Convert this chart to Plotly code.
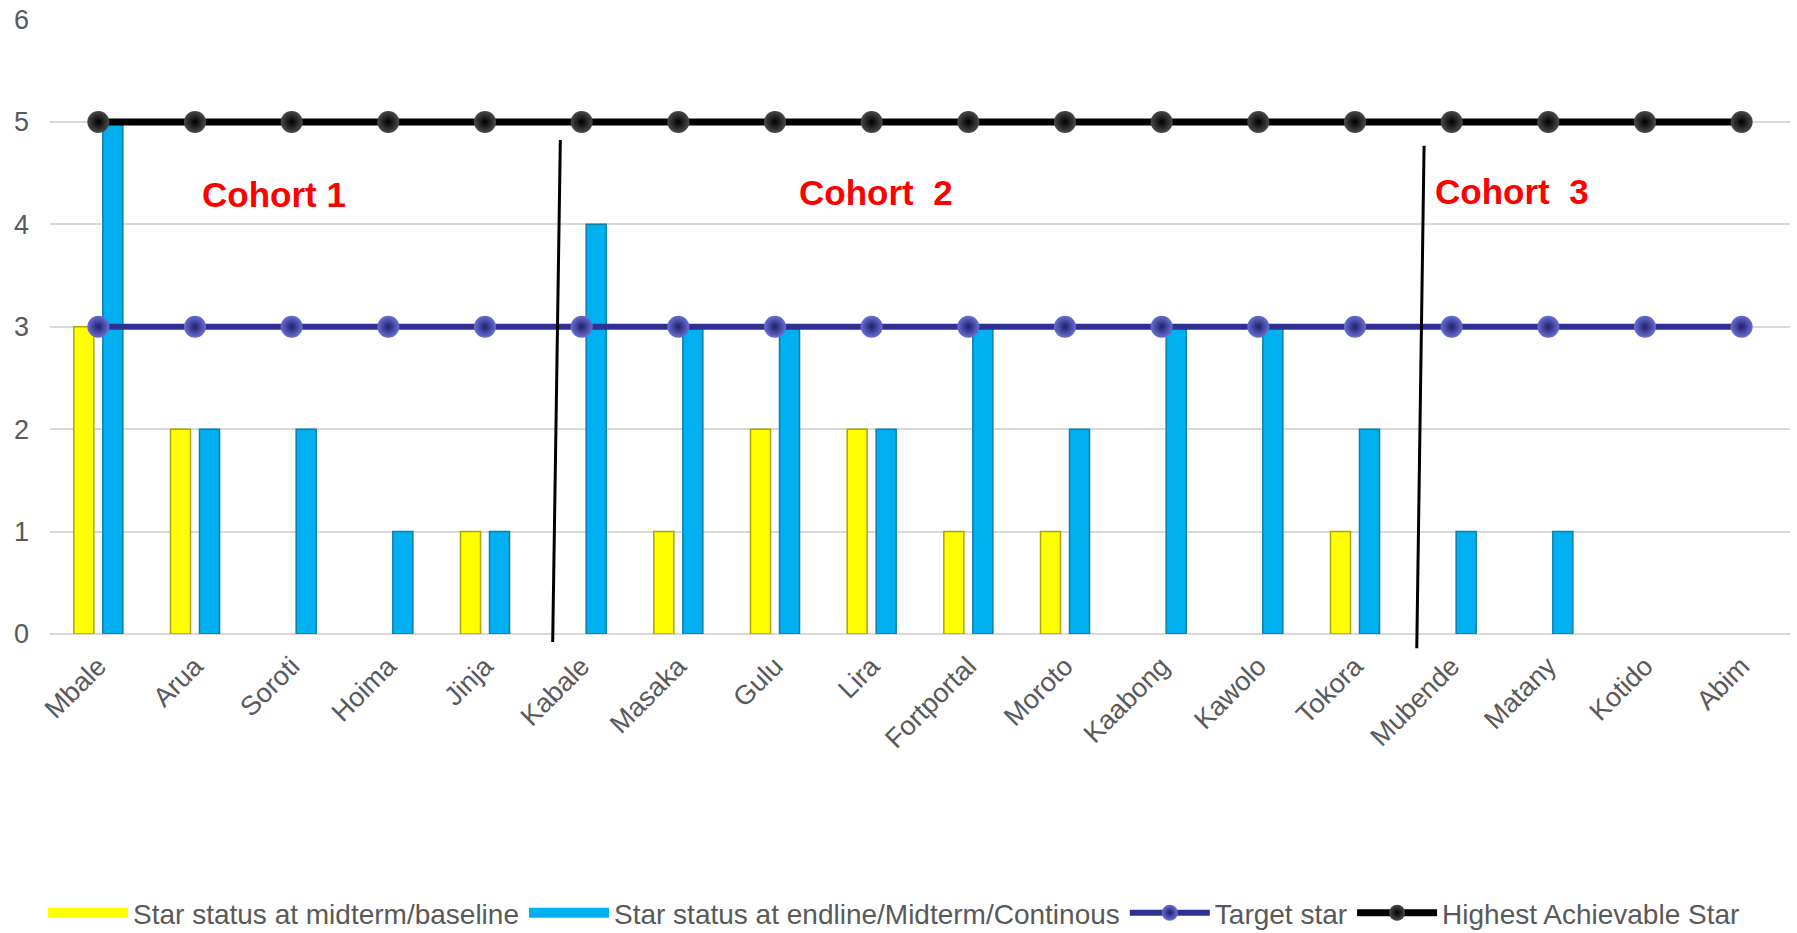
import plotly.graph_objects as go

sites = ["Mbale", "Arua", "Soroti", "Hoima", "Jinja", "Kabale", "Masaka", "Gulu", "Lira",
         "Fortportal", "Moroto", "Kaabong", "Kawolo", "Tokora", "Mubende", "Matany", "Kotido", "Abim"]
midterm_baseline = [3, 2, 0, 0, 1, 0, 1, 2, 2, 1, 1, 0, 0, 1, 0, 0, 0, 0]
endline_midterm = [5, 2, 2, 1, 1, 4, 3, 3, 2, 3, 2, 3, 3, 2, 1, 1, 0, 0]
target_star = [3] * 18
highest_star = [5] * 18
y_ticks = [0, 1, 2, 3, 4, 5, 6]

FONT = "Arial, Liberation Sans, sans-serif"
GREY = "#595959"
YELLOW, YELLOW_EDGE = "#FFFF00", "#A8A800"
BLUE, BLUE_EDGE = "#00B0F0", "#0B7FAA"
NAME_MID = "Star status at midterm/baseline"
NAME_END = "Star status at endline/Midterm/Continous"


def no_zero(vals):
    # a zero-star site shows no bar at all
    return [v if v != 0 else None for v in vals]


fig = go.Figure()
fig.add_trace(go.Bar(
    x=sites, y=no_zero(midterm_baseline), name=NAME_MID, showlegend=False,
    marker=dict(color=YELLOW, line=dict(color=YELLOW_EDGE, width=1.5)),
))
fig.add_trace(go.Bar(
    x=sites, y=no_zero(endline_midterm), name=NAME_END, showlegend=False,
    marker=dict(color=BLUE, line=dict(color=BLUE_EDGE, width=1.5)),
))
# legend-only entries giving the wide flat swatches of the original legend
fig.add_trace(go.Scatter(x=[None], y=[None], mode="lines", name=NAME_MID,
                         line=dict(color=YELLOW, width=11)))
fig.add_trace(go.Scatter(x=[None], y=[None], mode="lines", name=NAME_END,
                         line=dict(color=BLUE, width=11)))
fig.add_trace(go.Scatter(
    x=sites, y=target_star, name="Target star", mode="lines+markers",
    line=dict(color="#2E3192", width=6),
    marker=dict(size=22, color="#6A6FD0",
                gradient=dict(type="radial", color="#1E1F6E"),
                line=dict(width=0)),
))
fig.add_trace(go.Scatter(
    x=sites, y=highest_star, name="Highest Achievable Star", mode="lines+markers",
    line=dict(color="#000000", width=7),
    marker=dict(size=22, color="#4A4A4A",
                gradient=dict(type="radial", color="#000000"),
                line=dict(width=0)),
))

# hand-drawn cohort separators
seps = [((0.2933, 0.8033), (0.2889, -0.013)), ((0.7897, 0.794), (0.7855, -0.0233))]
for (x0, y0), (x1, y1) in seps:
    fig.add_shape(type="line", xref="paper", yref="paper", x0=x0, y0=y0, x1=x1, y1=y1,
                  line=dict(color="black", width=3))

cohorts = [("Cohort 1", 1.817, 4.29), ("Cohort\u00a0 2", 8.045, 4.315), ("Cohort\u00a0 3", 14.62, 4.317)]
for txt, cx, cy in cohorts:
    fig.add_annotation(x=cx, y=cy, xref="x", yref="y", text="<b>" + txt + "</b>", showarrow=False,
                       font=dict(family=FONT, size=35, color="#FF0000"),
                       xanchor="center", yanchor="middle")

fig.update_layout(
    width=1797, height=933,
    margin=dict(l=50, r=7, t=19, b=299, autoexpand=False),
    paper_bgcolor="white", plot_bgcolor="white",
    barmode="group", bargap=0.4, bargroupgap=0.31,
    font=dict(family=FONT, color=GREY),
    showlegend=True,
    legend=dict(orientation="h", x=-0.004, xanchor="left", y=-0.4537, yanchor="middle",
                font=dict(family=FONT, size=28, color=GREY), itemwidth=80,
                traceorder="normal"),
    xaxis=dict(range=[-0.5, 17.5], tickangle=-45, tickfont=dict(family=FONT, size=27, color=GREY),
               showgrid=False, showline=False, ticks="", zeroline=False, ticklabelstandoff=10),
    yaxis=dict(range=[0, 6.005], tickvals=y_ticks, tickfont=dict(family=FONT, size=27, color=GREY),
               showgrid=True, gridcolor="#D9D9D9", gridwidth=1.5,
               zeroline=True, zerolinecolor="#D9D9D9", zerolinewidth=2,
               ticks="", ticklabelstandoff=20, showline=False),
)

fig.write_html("out.html")
